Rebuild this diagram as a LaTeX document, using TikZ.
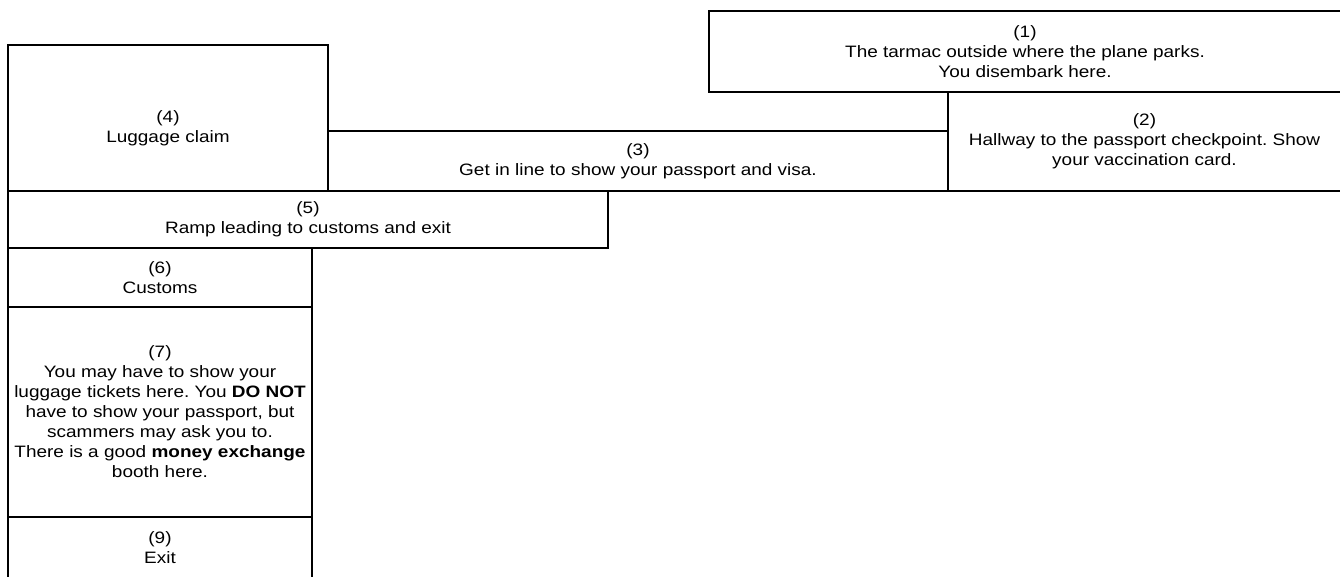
\documentclass[tikz,border=0pt]{standalone}
\usepackage{fontspec}
\setmainfont{Liberation Sans}[FakeStretch=1.15]
\frenchspacing
\begin{document}
\begin{tikzpicture}[x=1pt,y=-1pt,
  box/.style={draw=black, line width=2pt, inner sep=0pt, outer sep=0pt, align=center,
    font=\fontsize{16.5}{20}\selectfont},
  lbl/.style={inner sep=0pt, align=center, font=\fontsize{16.5}{20}\selectfont}]
\useasboundingbox (0,0) rectangle (1340,576);
\node[box, minimum width=632pt, minimum height=81pt] (b1) at (1025,51.5)
  {(1)\\The tarmac outside where the plane parks.\\You disembark here.};
\node[box, minimum width=393pt, minimum height=99pt] (b2) at (1144.5,141.5)
  {(2)\\Hallway to the passport checkpoint. Show\\your vaccination card.};
\node[box, minimum width=620pt, minimum height=60pt] (b3) at (638,161)
  {(3)\\Get in line to show your passport and visa.};
\node[box, minimum width=320pt, minimum height=146pt] (b4) at (168,118) {};
\node[lbl] (t4) at (168,128) {(4)\\Luggage claim};
\node[box, minimum width=600pt, minimum height=57pt] (b5) at (308,219.5)
  {(5)\\Ramp leading to customs and exit};
\node[box, minimum width=304pt, minimum height=59pt] (b6) at (160,277.5)
  {(6)\\Customs};
\node[box, minimum width=304pt, minimum height=210pt] (b7) at (160,412)
  {(7)\\You may have to show your\\luggage tickets here. You \textbf{DO NOT}\\have to show your passport, but\\scammers may ask you to.\\There is a good \textbf{money exchange}\\booth here.};
\node[box, minimum width=304pt, minimum height=61pt] (b9) at (160,547.5)
  {(9)\\Exit};
\end{tikzpicture}
\end{document}
